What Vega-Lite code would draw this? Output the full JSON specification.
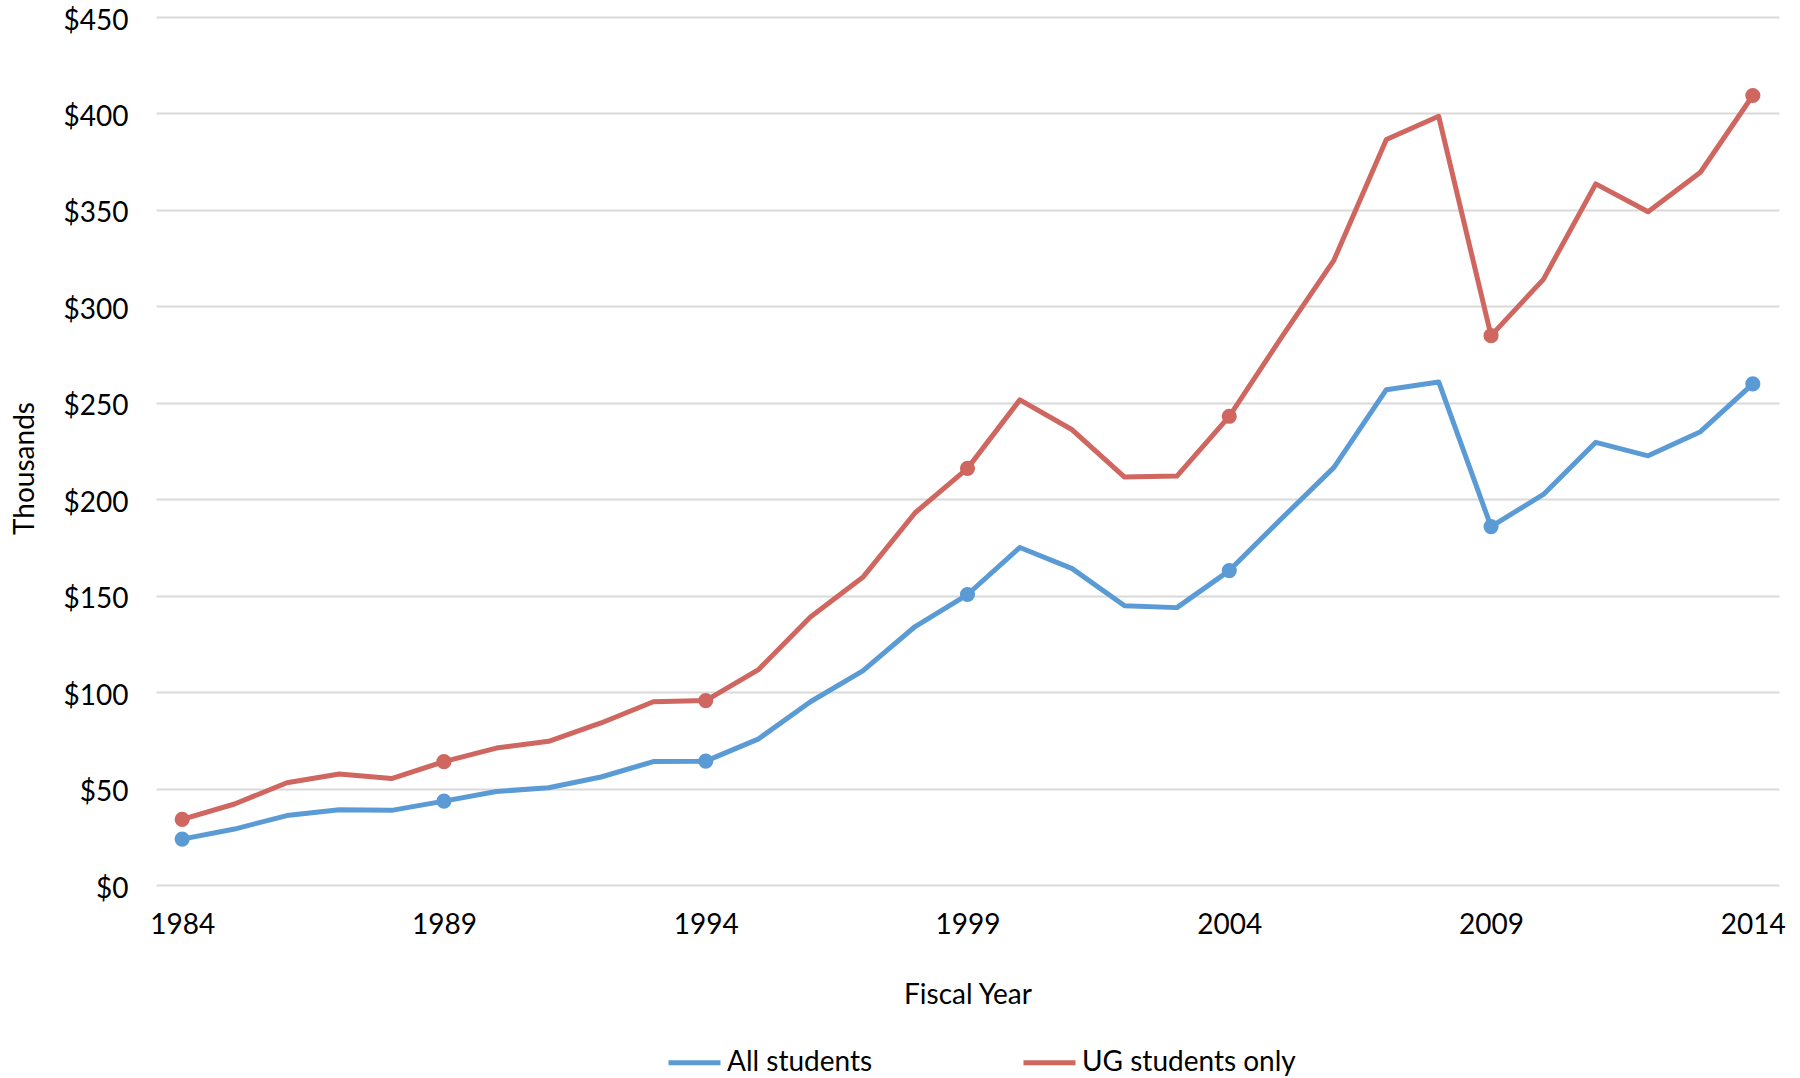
{
  "$schema": "https://vega.github.io/schema/vega-lite/v6.json",
  "width": 1623,
  "height": 868,
  "autosize": {"type": "none"},
  "padding": {"left": 156, "top": 17, "right": 21, "bottom": 193},
  "background": "white",
  "config": {
    "view": {"stroke": null},
    "font": "Lato",
    "axis": {"labelFont": "Lato", "titleFont": "Lato", "labelColor": "#000000", "titleColor": "#000000", "labelFontSize": 28, "titleFontSize": 28, "titleFontWeight": "normal"},
    "legend": {"labelFont": "Lato", "labelFontSize": 28, "labelColor": "#000000"}
  },
  "data": {
    "values": [
      {"year": 1984, "series": "All students", "value": 23.8},
      {"year": 1985, "series": "All students", "value": 29},
      {"year": 1986, "series": "All students", "value": 36},
      {"year": 1987, "series": "All students", "value": 39},
      {"year": 1988, "series": "All students", "value": 38.7},
      {"year": 1989, "series": "All students", "value": 43.5},
      {"year": 1990, "series": "All students", "value": 48.5},
      {"year": 1991, "series": "All students", "value": 50.4},
      {"year": 1992, "series": "All students", "value": 56},
      {"year": 1993, "series": "All students", "value": 64},
      {"year": 1994, "series": "All students", "value": 64.2},
      {"year": 1995, "series": "All students", "value": 75.6},
      {"year": 1996, "series": "All students", "value": 95},
      {"year": 1997, "series": "All students", "value": 111},
      {"year": 1998, "series": "All students", "value": 134},
      {"year": 1999, "series": "All students", "value": 150.6},
      {"year": 2000, "series": "All students", "value": 175},
      {"year": 2001, "series": "All students", "value": 164},
      {"year": 2002, "series": "All students", "value": 144.8},
      {"year": 2003, "series": "All students", "value": 143.8},
      {"year": 2004, "series": "All students", "value": 163},
      {"year": 2005, "series": "All students", "value": 190},
      {"year": 2006, "series": "All students", "value": 216.5},
      {"year": 2007, "series": "All students", "value": 256.8},
      {"year": 2008, "series": "All students", "value": 260.8},
      {"year": 2009, "series": "All students", "value": 185.8},
      {"year": 2010, "series": "All students", "value": 202.5},
      {"year": 2011, "series": "All students", "value": 229.5},
      {"year": 2012, "series": "All students", "value": 222.5},
      {"year": 2013, "series": "All students", "value": 235},
      {"year": 2014, "series": "All students", "value": 259.8},
      {"year": 1984, "series": "UG students only", "value": 34},
      {"year": 1985, "series": "UG students only", "value": 42},
      {"year": 1986, "series": "UG students only", "value": 53},
      {"year": 1987, "series": "UG students only", "value": 57.5},
      {"year": 1988, "series": "UG students only", "value": 55.2},
      {"year": 1989, "series": "UG students only", "value": 64},
      {"year": 1990, "series": "UG students only", "value": 71},
      {"year": 1991, "series": "UG students only", "value": 74.5},
      {"year": 1992, "series": "UG students only", "value": 84},
      {"year": 1993, "series": "UG students only", "value": 95},
      {"year": 1994, "series": "UG students only", "value": 95.6},
      {"year": 1995, "series": "UG students only", "value": 111.5},
      {"year": 1996, "series": "UG students only", "value": 139},
      {"year": 1997, "series": "UG students only", "value": 159.5},
      {"year": 1998, "series": "UG students only", "value": 193},
      {"year": 1999, "series": "UG students only", "value": 216},
      {"year": 2000, "series": "UG students only", "value": 251.5},
      {"year": 2001, "series": "UG students only", "value": 236},
      {"year": 2002, "series": "UG students only", "value": 211.5},
      {"year": 2003, "series": "UG students only", "value": 212},
      {"year": 2004, "series": "UG students only", "value": 243},
      {"year": 2005, "series": "UG students only", "value": 284},
      {"year": 2006, "series": "UG students only", "value": 324},
      {"year": 2007, "series": "UG students only", "value": 386.5},
      {"year": 2008, "series": "UG students only", "value": 398.5},
      {"year": 2009, "series": "UG students only", "value": 284.8},
      {"year": 2010, "series": "UG students only", "value": 314},
      {"year": 2011, "series": "UG students only", "value": 363.5},
      {"year": 2012, "series": "UG students only", "value": 349},
      {"year": 2013, "series": "UG students only", "value": 369.5},
      {"year": 2014, "series": "UG students only", "value": 409.3}
    ]
  },
  "encoding": {
    "x": {
      "field": "year", "type": "quantitative",
      "scale": {"domain": [1983.5, 2014.5], "nice": false, "zero": false},
      "axis": {
        "title": "Fiscal Year", "values": [1984, 1989, 1994, 1999, 2004, 2009, 2014], "format": "d",
        "grid": false, "domain": false, "ticks": false, "labelPadding": 26,
        "titleY": 110, "titleBaseline": "middle", "labelFlush": false
      }
    },
    "y": {
      "field": "value", "type": "quantitative",
      "scale": {"domain": [0, 450], "nice": false},
      "axis": {
        "title": "Thousands", "values": [0, 50, 100, 150, 200, 250, 300, 350, 400, 450], "format": "$.0f",
        "grid": true, "gridColor": "#d9d9d9", "gridWidth": 2, "domain": false, "ticks": false, "labelPadding": 28,
        "labelOffset": 4,
        "titleX": -131, "titleY": 451, "titleBaseline": "middle", "titleAngle": -90
      }
    },
    "color": {
      "field": "series", "type": "nominal",
      "scale": {"domain": ["All students", "UG students only"], "range": ["#5B9BD5", "#CF665F"]}
    }
  },
  "layer": [
    {
      "mark": {"type": "line", "strokeWidth": 5, "strokeJoin": "round"},
      "encoding": {
        "color": {
          "field": "series", "type": "nominal",
          "legend": {
            "title": null, "orient": "none", "direction": "horizontal", "legendX": 510, "legendY": 1017,
            "symbolType": "stroke", "symbolSize": 2704, "symbolStrokeWidth": 5, "labelOffset": 4, "columnPadding": 140, "labelLimit": 400
          }
        }
      }
    },
    {
      "transform": [{"filter": {"field": "year", "oneOf": [1984, 1989, 1994, 1999, 2004, 2009, 2014]}}],
      "mark": {"type": "point", "filled": true, "size": 230, "opacity": 1}
    }
  ]
}
